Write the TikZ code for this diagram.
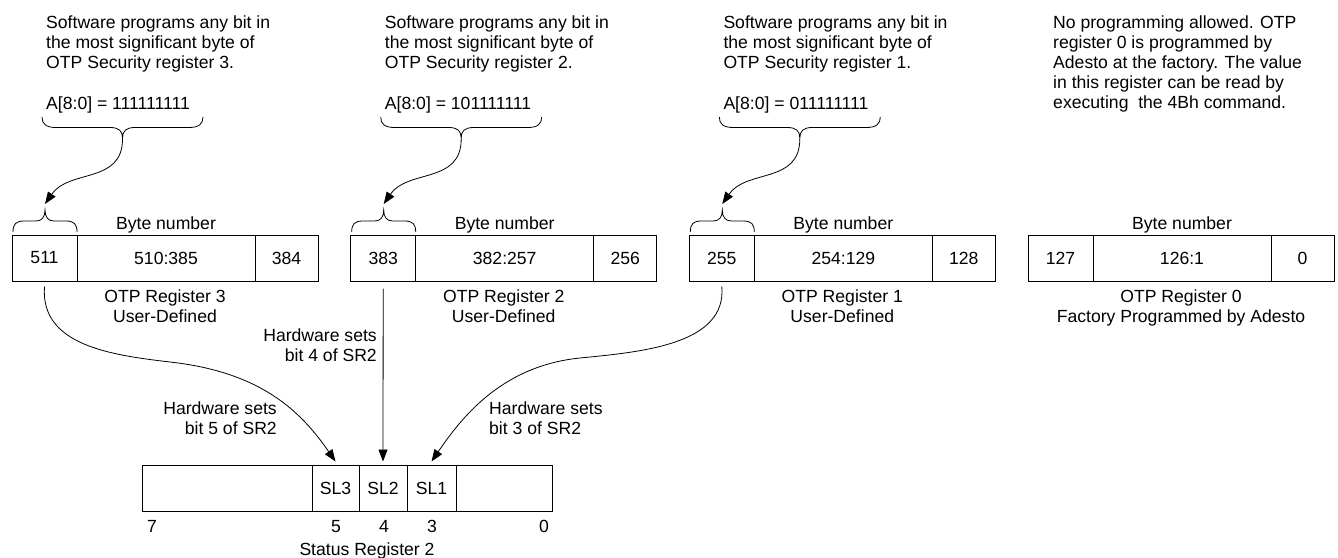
\documentclass[tikz,border=0pt]{standalone}
\usepackage{fontspec}
\setmainfont{Liberation Sans}
\usetikzlibrary{arrows.meta}
\begin{document}
\begin{tikzpicture}[x=1pt,y=-1pt,
  font=\fontsize{17.6}{20}\selectfont,
  cell/.style={draw, line width=1pt, minimum height=46pt, inner sep=0pt, anchor=center},
  arr/.style={-{Triangle[length=12pt,width=9pt]}, line width=0.8pt},
  brc/.style={line width=0.8pt},
  txt/.style={inner sep=0pt, align=left, anchor=base west},
  lbl/.style={inner sep=0pt, align=center, anchor=base},
  rlbl/.style={inner sep=0pt, align=right, anchor=base east},
]
\useasboundingbox[fill=white] (0,0) rectangle (1338,557);

% ---------- registers ----------
\foreach \k/\dx/\a/\b/\c/\nm/\sub in {3/0/511/510:385/384/OTP Register 3/User-Defined,
  2/338.7/383/382:257/256/OTP Register 2/User-Defined,
  1/677.3/255/254:129/128/OTP Register 1/User-Defined,
  0/1016/127/126:1/0/OTP Register 0/Factory Programmed by Adesto}{
  \node[cell, minimum width=65pt] (r\k a) at (44.5+\dx,258) {\a};
  \node[cell, minimum width=178pt] (r\k b) at (166+\dx,258) {\b};
  \node[cell, minimum width=63pt] (r\k c) at (286.5+\dx,258) {\c};
  \node[lbl] (bn\k) at (166+\dx,229) {Byte number};
  \node[lbl] (nm\k) at (165+\dx,322) {\nm\\\sub};
}

% ---------- top texts, braces and arrows ----------
\foreach \k/\dx/\addr in {3/0/111111111, 2/338.7/101111111, 1/677.3/011111111}{
  \node[txt] (t\k) at (46+\dx,68) {Software programs any bit in\\the most significant byte of\\OTP Security register \k.};
  \node[txt] (ad\k) at (46+\dx,109) {A[8:0] = \addr};
  % big brace under the address
  \draw[brc] (42+\dx,117) .. controls (42+\dx,124) and (46+\dx,127.5) .. (56+\dx,127.5)
     -- (110+\dx,127.5) .. controls (119+\dx,127.5) and (122.5+\dx,131) .. (122.5+\dx,138)
     .. controls (122.5+\dx,131) and (126+\dx,127.5) .. (135+\dx,127.5)
     -- (189+\dx,127.5) .. controls (199+\dx,127.5) and (203+\dx,124) .. (203+\dx,117);
  % small brace above the most significant byte
  \draw[brc] (13+\dx,232) .. controls (13+\dx,224) and (16+\dx,221) .. (24+\dx,221)
     -- (36+\dx,221) .. controls (42+\dx,221) and (45+\dx,217) .. (45+\dx,210)
     .. controls (45+\dx,217) and (48+\dx,221) .. (54+\dx,221)
     -- (66+\dx,221) .. controls (74+\dx,221) and (77+\dx,224) .. (77+\dx,232);
  \coordinate (bt\k) at (122.5+\dx,139);
  \coordinate (bs\k) at (45+\dx,204);
  \draw[arr] (bt\k) .. controls +(0,45) and +(24,-35) .. (bs\k);
}
\node[txt] (t0) at (1053,108) {No programming allowed. OTP\\register 0 is programmed by\\Adesto at the factory. The value\\in this register can be read by\\executing\ \ the 4Bh command.};

% ---------- status register 2 ----------
\node[cell, minimum width=170pt] (s7) at (227,488) {};
\node[cell, minimum width=47pt] (s5) at (335.5,488) {SL3};
\node[cell, minimum width=48pt] (s4) at (383,488) {SL2};
\node[cell, minimum width=49pt] (s3) at (431.5,488) {SL1};
\node[cell, minimum width=96pt] (s0) at (504,488) {};
\node[lbl] (n7) at (152,532) {7};
\node[lbl] (n5) at (336,532) {5};
\node[lbl] (n4) at (384,532) {4};
\node[lbl] (n3) at (432,532) {3};
\node[lbl] (n0) at (544,532) {0};
\node[lbl] (sr2) at (367,555) {Status Register 2};

% ---------- hardware arrows ----------
\node[rlbl] (h5) at (277,434) {Hardware sets\\bit 5 of SR2};
\node[rlbl] (h4) at (377,361) {Hardware sets\\bit 4 of SR2};
\node[txt] (h3) at (489,434) {Hardware sets\\bit 3 of SR2};

\draw[arr] ([yshift=-5pt]r3a.south) .. controls (40,345) and (110,355) .. (170,362)
   .. controls (260,372) and (300,410) .. ([yshift=3pt]s5.north);
\draw[arr] ([yshift=-7pt]r2a.south) -- ([yshift=3pt]s4.north);
\draw[arr] ([yshift=-5pt]r1a.south) .. controls (727,345) and (640,352) .. (580,358)
   .. controls (500,366) and (460,420) .. ([yshift=3pt]s3.north);
\end{tikzpicture}
\end{document}
